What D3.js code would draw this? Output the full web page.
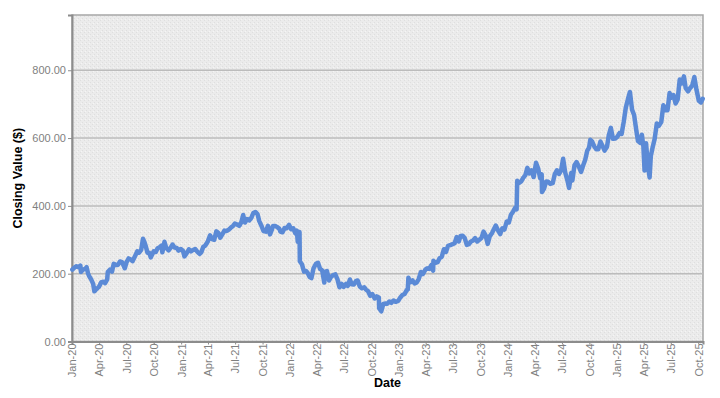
<!DOCTYPE html>
<html>
<head>
<meta charset="utf-8">
<script src="https://cdn.jsdelivr.net/npm/d3@7"></script>
<style>
    body { margin: 0; background: #fff; }
    svg { display: block; font-family: "Liberation Sans", Arial, sans-serif; }
</style>
</head>
<body>
<div id="chart"></div>
<script>
var closeDates = [
    "2020-01-02","2020-01-09","2020-01-16","2020-01-23","2020-01-29","2020-01-31","2020-02-07","2020-02-14","2020-02-19","2020-02-24",
    "2020-02-28","2020-03-06","2020-03-12","2020-03-16","2020-03-18","2020-03-23","2020-03-27","2020-04-01","2020-04-08","2020-04-15",
    "2020-04-21","2020-04-28","2020-04-30","2020-05-07","2020-05-14","2020-05-20","2020-05-27","2020-06-03","2020-06-10","2020-06-17",
    "2020-06-26","2020-07-02","2020-07-09","2020-07-16","2020-07-22","2020-07-31","2020-08-07","2020-08-13","2020-08-20","2020-08-26",
    "2020-08-31","2020-09-04","2020-09-10","2020-09-16","2020-09-21","2020-09-25","2020-10-01","2020-10-08","2020-10-14","2020-10-21",
    "2020-10-27","2020-10-30","2020-11-06","2020-11-12","2020-11-20","2020-11-27","2020-12-03","2020-12-10","2020-12-17","2020-12-23",
    "2020-12-31",
    "2021-01-07","2021-01-12","2021-01-20","2021-01-27","2021-02-03","2021-02-10","2021-02-17","2021-02-24","2021-03-04","2021-03-10",
    "2021-03-16","2021-03-23","2021-03-31","2021-04-08","2021-04-15","2021-04-22","2021-04-29","2021-05-06","2021-05-12","2021-05-19",
    "2021-05-26","2021-06-03","2021-06-10","2021-06-17","2021-06-24","2021-06-30","2021-07-08","2021-07-15","2021-07-22","2021-07-28",
    "2021-08-03","2021-08-10","2021-08-17","2021-08-24","2021-08-31","2021-09-07","2021-09-14","2021-09-20","2021-09-28","2021-10-04",
    "2021-10-12","2021-10-19","2021-10-26","2021-11-01","2021-11-05","2021-11-12","2021-11-18","2021-11-26","2021-11-30","2021-12-07",
    "2021-12-14","2021-12-21","2021-12-29",
    "2022-01-05","2022-01-12","2022-01-19","2022-01-24","2022-01-27","2022-02-02","2022-02-03","2022-02-10","2022-02-17","2022-02-24",
    "2022-03-01","2022-03-08","2022-03-14","2022-03-21","2022-03-29","2022-04-05","2022-04-12","2022-04-19","2022-04-26","2022-04-28",
    "2022-05-05","2022-05-12","2022-05-19","2022-05-26","2022-06-02","2022-06-09","2022-06-16","2022-06-23","2022-06-30","2022-07-08",
    "2022-07-14","2022-07-21","2022-07-27","2022-08-03","2022-08-10","2022-08-16","2022-08-23","2022-08-30","2022-09-07","2022-09-13",
    "2022-09-20","2022-09-27","2022-10-04","2022-10-12","2022-10-19","2022-10-26","2022-10-27","2022-11-03","2022-11-10","2022-11-17",
    "2022-11-23","2022-11-30","2022-12-07","2022-12-14","2022-12-21","2022-12-30",
    "2023-01-06","2023-01-13","2023-01-20","2023-01-27","2023-01-31","2023-02-02","2023-02-09","2023-02-16","2023-02-23","2023-03-02",
    "2023-03-09","2023-03-16","2023-03-23","2023-03-31","2023-04-06","2023-04-13","2023-04-20","2023-04-26","2023-04-27","2023-05-04",
    "2023-05-11","2023-05-18","2023-05-25","2023-06-01","2023-06-08","2023-06-15","2023-06-22","2023-06-30","2023-07-07","2023-07-14",
    "2023-07-21","2023-07-27","2023-08-03","2023-08-10","2023-08-17","2023-08-24","2023-08-31","2023-09-07","2023-09-14","2023-09-21",
    "2023-09-28","2023-10-05","2023-10-12","2023-10-19","2023-10-26","2023-11-02","2023-11-09","2023-11-16","2023-11-22","2023-11-30",
    "2023-12-07","2023-12-14","2023-12-21","2023-12-29",
    "2024-01-05","2024-01-12","2024-01-19","2024-01-26","2024-01-31","2024-02-02","2024-02-09","2024-02-16","2024-02-23","2024-02-29",
    "2024-03-07","2024-03-14","2024-03-21","2024-03-28","2024-04-05","2024-04-12","2024-04-19","2024-04-24","2024-04-25","2024-05-02",
    "2024-05-09","2024-05-16","2024-05-23","2024-05-31","2024-06-07","2024-06-14","2024-06-21","2024-06-28","2024-07-05","2024-07-12",
    "2024-07-19","2024-07-25","2024-08-01","2024-08-05","2024-08-12","2024-08-19","2024-08-26","2024-09-03","2024-09-10","2024-09-17",
    "2024-09-24","2024-09-30","2024-10-04","2024-10-10","2024-10-17","2024-10-24","2024-10-31","2024-11-07","2024-11-14","2024-11-21",
    "2024-11-29","2024-12-05","2024-12-12","2024-12-19","2024-12-27",
    "2025-01-03","2025-01-10","2025-01-17","2025-01-24","2025-01-31","2025-02-07","2025-02-14","2025-02-21","2025-02-28","2025-03-07",
    "2025-03-13","2025-03-20","2025-03-26","2025-03-31","2025-04-04","2025-04-09","2025-04-15","2025-04-21","2025-04-25","2025-05-01",
    "2025-05-08","2025-05-15","2025-05-22","2025-05-30","2025-06-06","2025-06-13","2025-06-20","2025-06-27","2025-07-03","2025-07-10",
    "2025-07-17","2025-07-24","2025-07-31","2025-08-07","2025-08-14","2025-08-20","2025-08-28","2025-09-04","2025-09-11","2025-09-18",
    "2025-09-25","2025-10-03","2025-10-10","2025-10-16"
];

var closeValues = [
    212,218,222,219,224,205,212,214,219,200,
    192,182,170,148,150,155,158,162,175,176,
    172,183,205,212,206,229,226,226,236,234,
    216,234,245,242,237,253,266,262,270,303,
    293,282,262,262,248,255,266,264,275,278,
    283,263,294,276,269,277,286,277,276,268,
    273,
    268,251,261,272,266,270,273,265,258,264,
    279,283,294,313,302,300,325,320,306,316,
    327,326,330,336,341,348,345,341,352,373,
    351,361,357,364,379,382,376,355,340,326,
    324,341,316,329,341,341,338,333,324,322,
    335,334,344,
    331,334,319,327,294,323,237,228,206,208,
    203,190,187,216,229,232,214,210,174,205,
    208,180,191,196,198,184,160,170,161,170,
    164,183,169,168,178,180,162,157,160,153,
    148,135,140,127,133,130,98,89,111,112,
    111,118,114,121,117,120,
    130,137,140,151,153,188,175,180,171,174,
    185,205,199,212,216,214,225,209,238,232,
    234,246,250,272,264,282,284,287,290,308,
    295,311,312,305,285,287,295,298,305,295,
    300,305,324,313,288,311,319,332,342,327,
    317,334,330,354,
    351,374,383,394,390,474,468,473,484,490,
    512,496,505,485,527,511,481,493,441,451,
    472,471,465,467,494,505,494,504,539,498,
    476,453,497,475,520,529,517,500,519,536,
    563,572,595,590,576,567,567,590,577,563,
    574,608,630,598,599,
    604,615,612,647,689,714,736,684,668,625,
    591,586,610,576,504,585,521,484,547,572,
    598,643,636,647,697,682,682,733,719,727,
    702,714,773,761,782,747,738,748,755,780,
    743,710,705,716
];

var yTickValues = [0, 200, 400, 600, 800];
var xTickMonths = d3.timeMonth.every(3).range(new Date(2020, 0, 1), new Date(2025, 9, 2));

var width = 720,
    height = 398,
    margin = {top: 15, right: 17, bottom: 57, left: 72},
    lineColor = "#5b8ad6",
    gridColor = "#bcbcbc",
    tickColor = "#7f7f7f";

var parseDate = d3.timeParse("%Y-%m-%d");
var points = closeDates.map(function(d, i) {
    return {date: parseDate(d), value: closeValues[i]};
});

var svg = d3.select("#chart")
            .append("svg")
            .attr("width", width)
            .attr("height", height);

var x = d3.scaleTime()
          .domain([new Date(2020, 0, 1), new Date(2025, 9, 17)])
          .range([margin.left, width - margin.right]);

var y = d3.scaleLinear()
          .domain([0, 963])
          .range([height - margin.bottom + 0.5, margin.top]);

// stippled plot background, like the original
var defs = svg.append("defs");
var pattern = defs.append("pattern")
                  .attr("id", "stipple")
                  .attr("width", 4)
                  .attr("height", 4)
                  .attr("patternUnits", "userSpaceOnUse");
pattern.append("rect").attr("width", 4).attr("height", 4).style("fill", "#ebebeb");
pattern.append("rect").attr("x", 0).attr("y", 0).attr("width", 1).attr("height", 1).style("fill", "#dedede");
pattern.append("rect").attr("x", 2).attr("y", 2).attr("width", 1).attr("height", 1).style("fill", "#dedede");
pattern.append("rect").attr("x", 1).attr("y", 3).attr("width", 1).attr("height", 1).style("fill", "#f5f5f5");

svg.append("rect")
   .attr("x", margin.left)
   .attr("y", margin.top)
   .attr("width", width - margin.right - margin.left)
   .attr("height", y(0) - margin.top)
   .style("fill", "url(#stipple)")
   .style("stroke", "#a6a6a6")
   .style("stroke-width", 1.5);

// gridlines
svg.selectAll(".gridLine")
   .data(yTickValues.slice(1))
   .enter()
   .append("line")
   .attr("class", "gridLine")
   .attr("x1", margin.left)
   .attr("x2", width - margin.right)
   .attr("y1", function(d) {return y(d); })
   .attr("y2", function(d) {return y(d); })
   .style("stroke", gridColor)
   .style("stroke-width", 1.5);

// y axis
var yAxis = svg.append("g")
               .attr("transform", "translate(" + margin.left + ",0)")
               .call(d3.axisLeft(y)
                       .tickValues(yTickValues)
                       .tickSize(4)
                       .tickPadding(2)
                       .tickFormat(d3.format(".2f")));
yAxis.select(".domain").style("stroke", "#8c8c8c").style("stroke-width", 2);
yAxis.selectAll(".tick line").style("stroke", "#8c8c8c");
yAxis.selectAll("text")
     .style("font-size", "11px")
     .style("fill", tickColor);

// x axis
var xAxis = svg.append("g")
               .attr("transform", "translate(0," + y(0) + ")")
               .call(d3.axisBottom(x)
                       .tickValues(xTickMonths)
                       .tickSize(3)
                       .tickFormat(d3.timeFormat("%b-%y")));
xAxis.select(".domain").style("stroke", "#8c8c8c").style("stroke-width", 2);
xAxis.selectAll(".tick line").style("stroke", "#8c8c8c");
xAxis.selectAll("text")
     .attr("transform", "rotate(-90)")
     .attr("x", -2)
     .attr("y", 0)
     .attr("dy", "0.35em")
     .style("text-anchor", "end")
     .style("font-size", "11px")
     .style("fill", tickColor);

// the series
var line = d3.line()
             .x(function(d) {return x(d.date); })
             .y(function(d) {return y(d.value); });

svg.append("path")
   .datum(points)
   .attr("d", line)
   .style("fill", "none")
   .style("stroke", lineColor)
   .style("stroke-width", 4.5)
   .style("stroke-linejoin", "round")
   .style("stroke-linecap", "round");

// axis titles
svg.append("text")
   .attr("transform", "translate(22," + ((margin.top + y(0)) / 2) + ") rotate(-90)")
   .style("text-anchor", "middle")
   .style("font-weight", "bold")
   .style("font-size", "12.5px")
   .text("Closing Value ($)");

svg.append("text")
   .attr("x", (margin.left + width - margin.right) / 2)
   .attr("y", 387)
   .style("text-anchor", "middle")
   .style("font-weight", "bold")
   .style("font-size", "12.5px")
   .text("Date");
</script>
</body>
</html>
